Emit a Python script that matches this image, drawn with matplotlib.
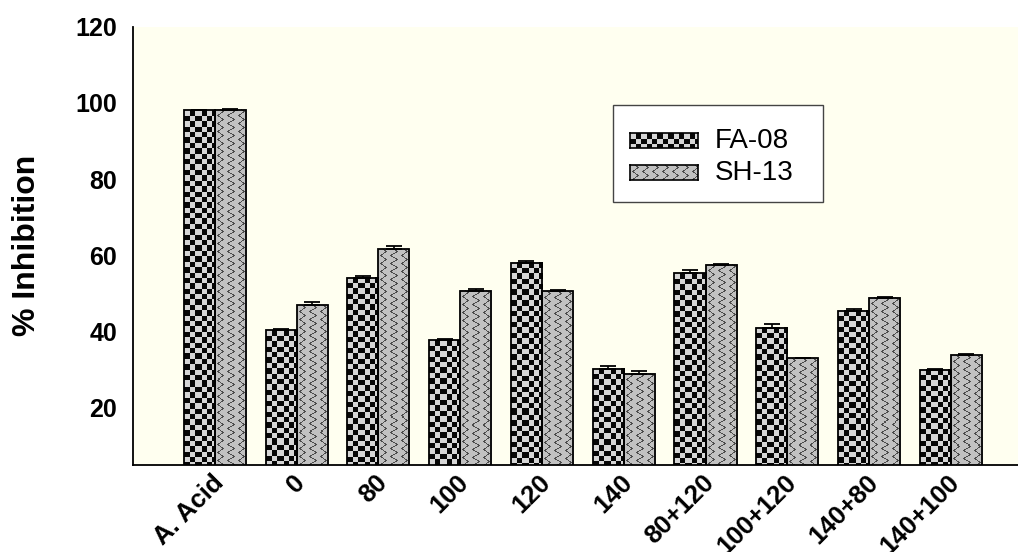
import numpy as np
import matplotlib
matplotlib.use("Agg")
import matplotlib.pyplot as plt
from matplotlib.patches import Rectangle
from matplotlib.transforms import ScaledTranslation

# ---- data ----
categories = ['A. Acid', '0', '80', '100', '120', '140',
              '80+120', '100+120', '140+80', '140+100']
fa08 = [98.0, 40.3, 54.1, 37.7, 58.0, 30.2, 55.2, 41.0, 45.4, 29.9]
fa08_err = [0.2, 0.2, 0.4, 0.4, 0.5, 0.6, 0.9, 0.8, 0.4, 0.2]
sh13 = [98.2, 46.8, 61.5, 50.7, 50.5, 28.8, 57.5, 32.9, 48.8, 33.7]
sh13_err = [0.2, 0.9, 1.0, 0.3, 0.3, 0.7, 0.3, 0.2, 0.3, 0.3]
series_names = ['FA-08', 'SH-13']
yticks = [20, 40, 60, 80, 100, 120]

FONT = 'Liberation Sans'
W, H, DPI = 1018, 552, 100


def checker(h, w, s=5.4):
    yy, xx = np.mgrid[0:h, 0:w]
    m = ((np.floor(xx / s) + np.floor(yy / s)) % 2).astype(bool)
    img = np.empty((h, w, 3))
    img[m] = (0.03, 0.03, 0.03)
    img[~m] = (0.84, 0.84, 0.84)
    return img


def waves(h, w, px=10.0, py=8.0):
    # columns of chained S-curves on a mid-grey ground
    yy, xx = np.mgrid[0:h, 0:w].astype(float)
    u = xx % px
    curve = px / 2 + 2.6 * np.sin(2 * np.pi * yy / py)
    d = np.abs(u - curve)
    d = np.minimum(d, px - d)
    m = d < 0.9
    img = np.empty((h, w, 3))
    img[:] = (0.76, 0.76, 0.76)
    img[m] = (0.30, 0.30, 0.30)
    return img


textures = [checker, waves]

fig = plt.figure(figsize=(W / DPI, H / DPI), dpi=DPI)
fig.patch.set_facecolor('white')
ax = fig.add_axes([133 / W, 1 - 465 / H, (W - 133) / W, (465 - 26.7) / H])
ax.set_facecolor('#FFFFF0')

x = np.arange(len(categories))
bw = 0.38
ax.set_xlim(-1.0, 9.82)
ax.set_ylim(4.9, 120)

for k, (vals, errs) in enumerate([(fa08, fa08_err), (sh13, sh13_err)]):
    xs = x + (k - 0.5) * bw
    bars = ax.bar(xs, vals, bw, color='none', edgecolor='black',
                  linewidth=1.3, zorder=3)
    for b in bars:
        x0, x1 = b.get_x(), b.get_x() + b.get_width()
        y0, y1 = 0, b.get_height()
        (px0, py0), (px1, py1) = ax.transData.transform([(x0, y0), (x1, y1)])
        img = textures[k](int(round(py1 - py0)), int(round(px1 - px0)))
        ax.imshow(img, extent=(x0, x1, y0, y1), origin='upper',
                  interpolation='nearest', aspect='auto', zorder=2)
    ax.errorbar(xs, vals, yerr=[np.zeros(len(vals)), errs], fmt='none',
                ecolor='black', elinewidth=1.2, capsize=6, capthick=1.3,
                zorder=4)

ax.set_xlim(-1.0, 9.82)
ax.set_ylim(4.9, 120)

for side in ('top', 'right'):
    ax.spines[side].set_visible(False)
for side in ('left', 'bottom'):
    ax.spines[side].set_linewidth(1.3)

ax.set_yticks(yticks)
ax.set_yticklabels([str(t) for t in yticks], fontsize=18,
                   fontweight='bold', family=FONT)
ax.tick_params(axis='y', length=0, pad=11.5)
ax.set_xticks(x)
ax.set_xticklabels(categories, rotation=45, ha='right', va='center',
                   rotation_mode='anchor', fontsize=18.5, fontweight='bold',
                   family=FONT)
ax.tick_params(axis='x', length=0, pad=10)
shift = ScaledTranslation(0.05, 0, fig.dpi_scale_trans)
for lab in ax.get_xticklabels():
    lab.set_transform(lab.get_transform() + shift)

ax.set_ylabel('% Inhibition', fontsize=23, fontweight='bold', family=FONT)
ax.yaxis.set_label_coords(-0.103, 0.5)

# legend box with textured swatches
fig.patches.append(Rectangle((613 / W, 1 - 202 / H), 210 / W, 97 / H,
                             transform=fig.transFigure, facecolor='white',
                             edgecolor='#444444', linewidth=1.0, zorder=5))
for k, name in enumerate(series_names):
    top = 133 + k * 32
    sw = fig.add_axes([630 / W, 1 - (top + 15) / H, 68 / W, 15 / H])
    sw.imshow(textures[k](15, 68), interpolation='nearest', aspect='auto')
    sw.set_xticks([])
    sw.set_yticks([])
    for sp in sw.spines.values():
        sp.set_linewidth(1.2)
    sw.set_zorder(6)
    fig.text(715 / W, 1 - (top + 8) / H, name, fontsize=20, family=FONT,
             va='center', ha='left', zorder=7)

fig.savefig('out.png', dpi=DPI)
